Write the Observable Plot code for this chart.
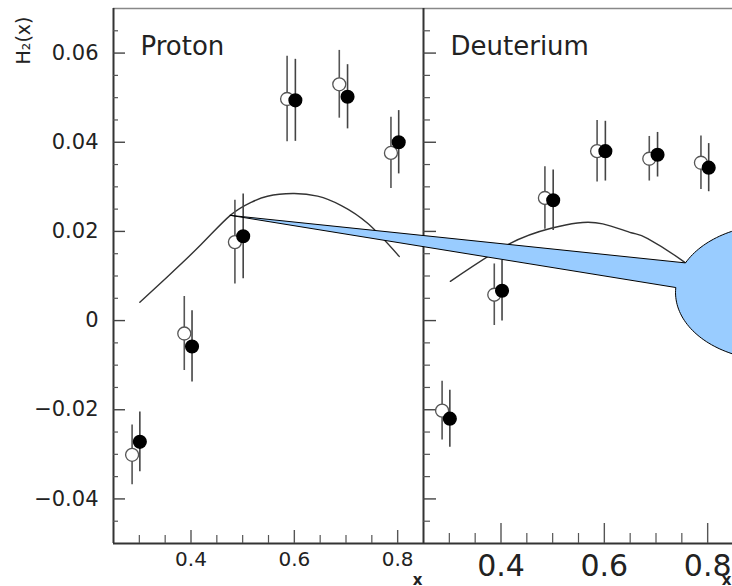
<!DOCTYPE html>
<html>
<head>
<meta charset="utf-8">
<script src="https://cdn.jsdelivr.net/npm/d3@7"></script>
<script src="https://cdn.jsdelivr.net/npm/@observablehq/plot@0.6"></script>
<style>
  html, body { margin: 0; padding: 0; background: white; overflow: hidden; }
</style>
</head>
<body>
<div id="chart"></div>
<script>
// ---- data ----
const panels = ["Proton", "Deuterium"];
const panelOffset = [0, 0.6]; // the two panels sit side by side on one x scale

const xOpen   = [0.286, 0.387, 0.485, 0.586, 0.687, 0.787];
const xFilled = [0.301, 0.402, 0.501, 0.602, 0.703, 0.802];

const protonOpen      = [-0.0301, -0.0029, 0.0176, 0.0497, 0.0530, 0.0376];
const protonOpenErr   = [0.0067, 0.0083, 0.0094, 0.0096, 0.0076, 0.0080];
const protonFilled    = [-0.0272, -0.0058, 0.0189, 0.0494, 0.0502, 0.0400];
const protonFilledErr = [0.0067, 0.0080, 0.0095, 0.0092, 0.0072, 0.0071];

const deutOpen      = [-0.0202, 0.0058, 0.0275, 0.0380, 0.0363, 0.0354];
const deutOpenErr   = [0.0066, 0.0069, 0.0070, 0.0069, 0.0050, 0.0060];
const deutFilled    = [-0.0220, 0.0067, 0.0270, 0.0380, 0.0372, 0.0343];
const deutFilledErr = [0.0064, 0.0068, 0.0068, 0.0067, 0.0050, 0.0054];

const protonCurveX = [0.301, 0.354, 0.419, 0.476, 0.516, 0.548, 0.597, 0.645, 0.691, 0.743, 0.803];
const protonCurveY = [0.0041, 0.0098, 0.0170, 0.0236, 0.0265, 0.0279, 0.0285, 0.0279, 0.0258, 0.0217, 0.0144];
const deutCurveX = [0.302, 0.416, 0.497, 0.548, 0.597, 0.652, 0.684, 0.755, 0.800];
const deutCurveY = [0.0088, 0.0172, 0.0207, 0.0219, 0.0217, 0.0197, 0.0184, 0.0131, 0.0085];

const yMajorTicks = [-0.04, -0.02, 0, 0.02, 0.04, 0.06];
const yTickLabels = ["\u22120.04", "\u22120.02", "0", "0.02", "0.04", "0.06"];
const yMinorTicks = [-0.045, -0.035, -0.03, -0.025, -0.015, -0.01, -0.005, 0.005, 0.01, 0.015,
                     0.025, 0.03, 0.035, 0.045, 0.05, 0.055, 0.065];
const xMajorTicks = [0.4, 0.6, 0.8];
const xTickLabels = ["0.4", "0.6", "0.8"];
const xMinorTicks = [0.3, 0.35, 0.45, 0.5, 0.55, 0.65, 0.7, 0.75];

const yLabel = "H\u2082(x)";
const xLabel = "x";

// callout annotation (speech bubble) anchored on the proton curve
const calloutTip = {x: protonCurveX[3], y: protonCurveY[3]};
const calloutEllipse = {cx: 1.5313, cy: 0.0063, rx: 0.1935, ry: 0.01525, startDeg: 205.8, endDeg: 544.2};

// ---- layout ----
const W = 732, H = 586;
const xDomain = [0.25, 1.45], xRange = [113, 733];
const yDomain = [-0.05, 0.07], yRange = [543, 8];
const pxX = (xRange[1] - xRange[0]) / (xDomain[1] - xDomain[0]);
const pxY = (yRange[0] - yRange[1]) / (yDomain[1] - yDomain[0]);
const panelLeft = panelOffset.map(o => xDomain[0] + o);

function points(panelIdx, xs, ys, errs) {
  return xs.map((x, i) => ({x: x + panelOffset[panelIdx], y: ys[i], lo: ys[i] - errs[i], hi: ys[i] + errs[i]}));
}
const openPts = [...points(0, xOpen, protonOpen, protonOpenErr), ...points(1, xOpen, deutOpen, deutOpenErr)];
const filledPts = [...points(0, xFilled, protonFilled, protonFilledErr), ...points(1, xFilled, deutFilled, deutFilledErr)];
const curves = [
  ...protonCurveX.map((x, i) => ({panel: "Proton", x: x + panelOffset[0], y: protonCurveY[i]})),
  ...deutCurveX.map((x, i) => ({panel: "Deuterium", x: x + panelOffset[1], y: deutCurveY[i]}))
];

// callout outline
const calloutPts = [{x: calloutTip.x, y: calloutTip.y}];
{
  const e = calloutEllipse;
  const degs = d3.range(e.startDeg, e.endDeg, 2).concat([e.endDeg]);
  for (const d of degs) {
    const t = d * Math.PI / 180;
    calloutPts.push({x: e.cx + e.rx * Math.cos(t), y: e.cy - e.ry * Math.sin(t)});
  }
}
calloutPts.push({x: calloutTip.x, y: calloutTip.y});

// tick geometry per panel: [left panel, right panel]
const yTickLen = [{major: 12, minor: 5}, {major: 13, minor: 7}];
const xTickLen = [{major: 13, minor: 8}, {major: 20, minor: 10}];
const xLabelSize = [20, 30];
const xLabelDy = [22, 32];

const tickMarks = [];
panels.forEach((p, k) => {
  const x0 = panelLeft[k];
  tickMarks.push(Plot.ruleY(yMajorTicks, {y: d => d, x1: x0, x2: x0 + yTickLen[k].major / pxX, stroke: "#444", strokeWidth: 1.4}));
  tickMarks.push(Plot.ruleY(yMinorTicks, {y: d => d, x1: x0, x2: x0 + yTickLen[k].minor / pxX, stroke: "#555", strokeWidth: 1.2}));
  tickMarks.push(Plot.ruleX(xMajorTicks, {x: d => d + panelOffset[k], y1: yDomain[0], y2: yDomain[0] + xTickLen[k].major / pxY, stroke: "#555", strokeWidth: 1.4}));
  tickMarks.push(Plot.ruleX(xMinorTicks, {x: d => d + panelOffset[k], y1: yDomain[0], y2: yDomain[0] + xTickLen[k].minor / pxY, stroke: "#555", strokeWidth: 1.2}));
  tickMarks.push(Plot.text(xMajorTicks, {x: d => d + panelOffset[k], y: yDomain[0], text: (d, i) => xTickLabels[i],
    dy: xLabelDy[k], lineAnchor: "bottom", fontSize: xLabelSize[k], fill: "#222"}));
  tickMarks.push(Plot.text([xLabel], {x: panelLeft[k] + 0.6, y: yDomain[0], text: d => d, dx: k === 0 ? -6 : -7,
    dy: 41, lineAnchor: "bottom", fontSize: 15, fontWeight: "bold", fill: "#222"}));
});

const chart = Plot.plot({
  width: W,
  height: H,
  marginLeft: xRange[0],
  marginRight: W - xRange[1],
  marginTop: yRange[1],
  marginBottom: H - yRange[0],
  x: {domain: xDomain, range: xRange, axis: null},
  y: {domain: yDomain, range: yRange, axis: null},
  style: {fontFamily: "DejaVu Sans", background: "white"},
  marks: [
    // frame
    Plot.ruleY([yDomain[1]], {stroke: "#888", strokeWidth: 1.5}),
    Plot.ruleY([yDomain[0]], {stroke: "#333", strokeWidth: 2}),
    Plot.ruleX(panelLeft, {stroke: "#333", strokeWidth: 2}),
    ...tickMarks,
    // y tick labels
    Plot.text(yMajorTicks, {x: xDomain[0], y: d => d, text: (d, i) => yTickLabels[i], dx: -15, textAnchor: "end", fontSize: 21, fill: "#222"}),
    // y axis label (rotated, left of the frame, near the top)
    Plot.text([yLabel], {x: xDomain[0] - 90 / pxX, y: yDomain[1] - 32 / pxY, text: d => d, rotate: -90,
      textAnchor: "middle", lineAnchor: "middle", fontSize: 19, fill: "#222"}),
    // panel titles
    Plot.text(panels, {x: (d, i) => panelLeft[i], y: yDomain[1], text: d => d, dx: 27, dy: 46, textAnchor: "start", lineAnchor: "bottom", fontSize: 26, fill: "#222"}),
    // model curves
    Plot.line(curves, {x: "x", y: "y", z: "panel", stroke: "#333", strokeWidth: 1.4, curve: "natural"}),
    // error bars
    Plot.ruleX(openPts, {x: "x", y1: "lo", y2: "hi", stroke: "#555", strokeWidth: 1.6}),
    Plot.ruleX(filledPts, {x: "x", y1: "lo", y2: "hi", stroke: "#444", strokeWidth: 1.6}),
    // points
    Plot.dot(openPts, {x: "x", y: "y", r: 6.5, fill: "white", stroke: "#555", strokeWidth: 1.3}),
    Plot.dot(filledPts, {x: "x", y: "y", r: 6.3, fill: "black", stroke: "black"}),
    // callout
    Plot.line(calloutPts, {x: "x", y: "y", fill: "#99ccff", stroke: "black", strokeWidth: 1, curve: "linear"})
  ]
});
document.getElementById("chart").appendChild(chart);
</script>
</body>
</html>
